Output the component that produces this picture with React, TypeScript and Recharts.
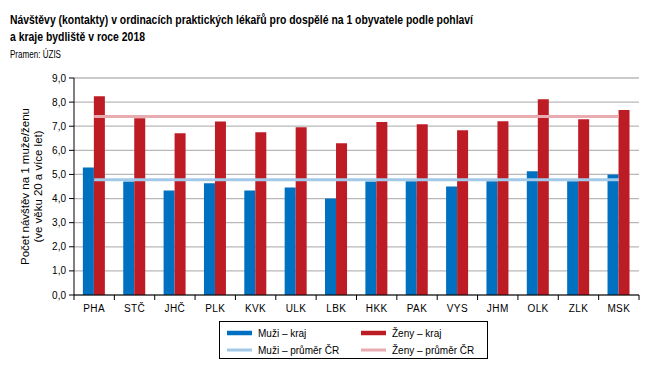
import React from "react";
import {
  ComposedChart,
  Bar,
  Line,
  XAxis,
  YAxis,
  CartesianGrid,
  Legend,
} from "recharts";

const kraje = ["PHA", "STČ", "JHČ", "PLK", "KVK", "ULK", "LBK", "HKK", "PAK", "VYS", "JHM", "OLK", "ZLK", "MSK"];
const muziKraj = [5.29, 4.71, 4.33, 4.63, 4.33, 4.46, 4.0, 4.71, 4.72, 4.5, 4.72, 5.13, 4.72, 5.0];
const zenyKraj = [8.24, 7.33, 6.71, 7.2, 6.75, 6.96, 6.29, 7.17, 7.08, 6.83, 7.21, 8.12, 7.29, 7.67];
const muziPrumerCR = 4.78;
const zenyPrumerCR = 7.4;
const yTicks = [0, 1, 2, 3, 4, 5, 6, 7, 8, 9];

const titleLine1 = "Návštěvy (kontakty) v ordinacích praktických lékařů pro dospělé na 1 obyvatele podle pohlaví";
const titleLine2 = "a kraje bydliště v roce 2018";
const sourceText = "Pramen: ÚZIS";
const yLabel1 = "Počet návštěv na 1 muže/ženu";
const yLabel2 = "(ve věku 20 a více let)";

const C_MUZI = "#0070C0";
const C_ZENY = "#BE1C25";
const C_MUZI_AVG = "#A3C9E8";
const C_ZENY_AVG = "#E8ABB0";

const legendItems = [
  { name: "Muži – kraj", color: C_MUZI, w: 4.5 },
  { name: "Ženy – kraj", color: C_ZENY, w: 4.5 },
  { name: "Muži – průměr ČR", color: C_MUZI_AVG, w: 3 },
  { name: "Ženy – průměr ČR", color: C_ZENY_AVG, w: 3 },
];

const data = kraje.map((k, i) => ({
  kraj: k,
  muzi: muziKraj[i],
  zeny: zenyKraj[i],
  muziAvg: muziPrumerCR,
  zenyAvg: zenyPrumerCR,
}));

const W = 666;
const H = 372;
const LEGEND_H = 38;
const M = { top: 78, right: 27, bottom: 57 - LEGEND_H, left: 0 };
const Y_AXIS_W = 74;
const PLOT_W = W - M.left - M.right - Y_AXIS_W;
const HALF_BAND = PLOT_W / kraje.length / 2;
const FONT = "'Liberation Sans', Arial, sans-serif";

const XTick = (props: any) => {
  const { x, y, payload, index } = props;
  const axisY = y - 7;
  return (
    <g>
      {index === 0 && (
        <line x1={x - HALF_BAND} x2={x - HALF_BAND} y1={axisY} y2={axisY + 5} stroke="#000" />
      )}
      <line x1={x + HALF_BAND} x2={x + HALF_BAND} y1={axisY} y2={axisY + 5} stroke="#000" />
      <text x={x} y={axisY + 17} textAnchor="middle" fontSize={10} fontFamily={FONT} fill="#000" letterSpacing={0.4}>
        {payload.value}
      </text>
    </g>
  );
};

const YLabel = (props: any) => {
  const vb = props.viewBox || { x: 0, y: 78, width: 74, height: 217 };
  const cy = vb.y + vb.height / 2;
  return (
    <g fontFamily={FONT} fontSize={10} fill="#000">
      <text x={0} y={0} textAnchor="middle" transform={`translate(${vb.x + 29}, ${cy}) rotate(-90)`} textLength={157} lengthAdjust="spacingAndGlyphs">
        {yLabel1}
      </text>
      <text x={0} y={0} textAnchor="middle" transform={`translate(${vb.x + 42}, ${cy}) rotate(-90)`} textLength={112} lengthAdjust="spacingAndGlyphs">
        {yLabel2}
      </text>
    </g>
  );
};

const LegendBox = () => {
  const colX = [8, 142];
  const rowY = [12, 29];
  return (
    <svg width={269} height={LEGEND_H} style={{ display: "block" }}>
      <rect x={0.5} y={0.5} width={268} height={LEGEND_H - 1} fill="#fff" stroke="#000" />
      {legendItems.map((it, i) => {
        const cx = colX[i % 2];
        const cy = rowY[Math.floor(i / 2)];
        return (
          <g key={it.name}>
            <line x1={cx} x2={cx + 25} y1={cy} y2={cy} stroke={it.color} strokeWidth={it.w} />
            <text x={cx + 31} y={cy + 3.5} fontSize={10} fontFamily={FONT} fill="#000">
              {it.name}
            </text>
          </g>
        );
      })}
    </svg>
  );
};

export default function App() {
  return (
    <div style={{ position: "absolute", left: 0, top: 0, width: W, height: H, background: "#fff" }}>
      <svg width={W} height={70} style={{ position: "absolute", left: 0, top: 0 }}>
        <text x={10} y={23.5} fontFamily={FONT} fontWeight="bold" fontSize={12.5} fill="#000" textLength={463} lengthAdjust="spacingAndGlyphs">
          {titleLine1}
        </text>
        <text x={10} y={40.5} fontFamily={FONT} fontWeight="bold" fontSize={12.5} fill="#000" textLength={135} lengthAdjust="spacingAndGlyphs">
          {titleLine2}
        </text>
        <text x={10} y={57.5} fontFamily={FONT} fontSize={10} fill="#000" textLength={51} lengthAdjust="spacingAndGlyphs">
          {sourceText}
        </text>
      </svg>
      <div style={{ position: "absolute", left: 0, top: 0 }}>
        <ComposedChart width={W} height={H} data={data} margin={M} barGap={0} barCategoryGap="22%">
          <CartesianGrid horizontal vertical={false} stroke="#B8B8B8" strokeWidth={1.3} />
          <XAxis
            dataKey="kraj"
            interval={0}
            height={20}
            tickSize={5}
            tickMargin={2}
            tickLine={false}
            axisLine={{ stroke: "#000" }}
            tick={<XTick />}
          />
          <XAxis
            xAxisId="top"
            dataKey="kraj"
            orientation="top"
            height={0}
            tick={false}
            tickLine={false}
            axisLine={{ stroke: "#000" }}
          />
          <YAxis
            domain={[0, 9]}
            ticks={yTicks}
            interval={0}
            width={Y_AXIS_W}
            tickSize={5}
            tickMargin={3}
            tickLine={{ stroke: "#000" }}
            axisLine={{ stroke: "#000" }}
            tick={{ fontSize: 10, fontFamily: FONT, fill: "#000" }}
            tickFormatter={(v: number) => v.toFixed(1).replace(".", ",")}
            label={{ content: <YLabel /> }}
          />
          <YAxis
            yAxisId="right"
            orientation="right"
            domain={[0, 9]}
            width={0}
            tick={false}
            tickLine={false}
            axisLine={{ stroke: "#000" }}
          />
          <Bar dataKey="muzi" fill={C_MUZI} isAnimationActive={false} />
          <Bar dataKey="zeny" fill={C_ZENY} isAnimationActive={false} />
          <Line dataKey="muziAvg" stroke={C_MUZI_AVG} strokeWidth={3} dot={false} activeDot={false} isAnimationActive={false} />
          <Line dataKey="zenyAvg" stroke={C_ZENY_AVG} strokeWidth={3} dot={false} activeDot={false} isAnimationActive={false} />
          <Legend
            content={<LegendBox />}
            wrapperStyle={{ position: "absolute", left: 219, top: 321, width: 269, height: LEGEND_H }}
          />
        </ComposedChart>
      </div>
    </div>
  );
}
